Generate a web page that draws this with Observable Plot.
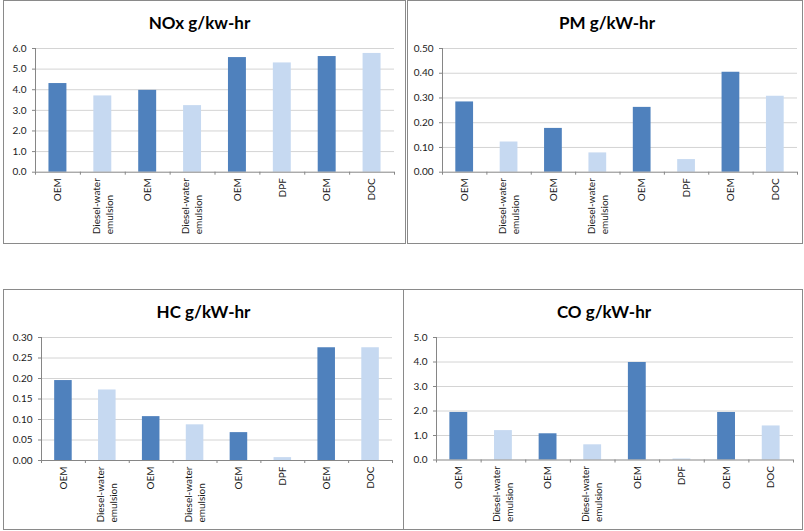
<!DOCTYPE html>
<html>
<head>
<meta charset="utf-8">
<script src="https://cdn.jsdelivr.net/npm/d3@7"></script>
<script src="https://cdn.jsdelivr.net/npm/@observablehq/plot@0.6"></script>
<style>
  body { margin: 0; background: #fff; }
  #root { position: relative; width: 804px; height: 531px; overflow: hidden; font-family: Lato, "Open Sans", sans-serif; }
  .panel { position: absolute; }
  .panel svg { position: absolute; left: 0; }
  .frame { position: absolute; left: 0; top: 0; right: 0; bottom: 0; border: 1px solid #8a8a8a; box-sizing: border-box; pointer-events: none; }
  .title { position: absolute; left: 0; right: 0; top: 0; height: 36px; text-align: center; font-weight: bold; font-size: 17px; line-height: 17px; padding-top: 14px; box-sizing: border-box; color: #000; white-space: nowrap; }
</style>
</head>
<body>
<div id="root"></div>
<script>
// ---- data ----
const categories = ["OEM", "Diesel-water\nemulsion", "OEM", "Diesel-water\nemulsion", "OEM", "DPF", "OEM", "DOC"];
const seriesKind = ["OEM", "Retrofit", "OEM", "Retrofit", "OEM", "Retrofit", "OEM", "Retrofit"];

const noxTitle = "NOx g/kw-hr";
const noxValues = [4.30, 3.70, 3.97, 3.23, 5.56, 5.30, 5.61, 5.76];
const noxTicks = [0, 1, 2, 3, 4, 5, 6];

const pmTitle = "PM g/kW-hr";
const pmValues = [0.284, 0.122, 0.177, 0.078, 0.262, 0.051, 0.404, 0.307];
const pmTicks = [0, 0.1, 0.2, 0.3, 0.4, 0.5];

const hcTitle = "HC g/kW-hr";
const hcValues = [0.195, 0.172, 0.107, 0.087, 0.068, 0.007, 0.275, 0.275];
const hcTicks = [0, 0.05, 0.10, 0.15, 0.20, 0.25, 0.30];

const coTitle = "CO g/kW-hr";
const coValues = [1.94, 1.20, 1.07, 0.62, 3.98, 0.04, 1.94, 1.39];
const coTicks = [0, 1, 2, 3, 4, 5];

// ---- layout / style (not data) ----
const colors = {OEM: "#4f81bd", Retrofit: "#c6d9f1"};
const axisColor = "#868686";
const gridColor = "#d4d4d4";
const TITLE_H = 36;
const LINE_H = 1.3;

const panels = [
  {title: noxTitle, values: noxValues, ticks: noxTicks, fmt: ".1f", left: 3, top: 0, w: 403, h: 244, ml: 32, mr: 12, mt: 12, plotBottom: 171.7, titleDx: -5},
  {title: pmTitle, values: pmValues, ticks: pmTicks, fmt: ".2f", left: 407, top: 0, w: 396, h: 244, ml: 35, mr: 6, mt: 12, plotBottom: 171.7, titleDx: 2},
  {title: hcTitle, values: hcValues, ticks: hcTicks, fmt: ".2f", left: 3, top: 289, w: 401, h: 241, ml: 38, mr: 12, mt: 12, plotBottom: 171, titleDx: 0},
  {title: coTitle, values: coValues, ticks: coTicks, fmt: ".1f", left: 403, top: 289, w: 400, h: 241, ml: 33, mr: 10, mt: 12, plotBottom: 170.5, titleDx: 1}
];

const root = document.getElementById("root");
const idx = d3.range(categories.length);
const centers = idx.map(i => i + 0.5);
const bounds = d3.range(categories.length + 1);

for (const p of panels) {
  const div = document.createElement("div");
  div.className = "panel";
  Object.assign(div.style, {left: p.left + "px", top: p.top + "px", width: p.w + "px", height: p.h + "px"});

  const title = document.createElement("div");
  title.className = "title";
  title.textContent = p.title;
  title.style.transform = `translateX(${p.titleDx}px)`;
  div.appendChild(title);

  const svgH = p.h - TITLE_H;
  const mb = svgH - (p.plotBottom - TITLE_H);
  const fmt = d3.format(p.fmt);
  const ymax = d3.max(p.ticks);

  const chart = Plot.plot({
    width: p.w,
    height: svgH,
    marginLeft: p.ml,
    marginRight: p.mr,
    marginTop: p.mt,
    marginBottom: mb,
    style: {fontFamily: "Lato, 'Open Sans', sans-serif", fontSize: "10px", color: "#1a1a1a", background: "transparent"},
    x: {type: "linear", domain: [0, categories.length], axis: null},
    y: {domain: [0, ymax], axis: null},
    marks: [
      Plot.ruleY(p.ticks.filter(t => t > 0), {stroke: gridColor, strokeWidth: 1}),
      Plot.rectY(idx, {
        x1: i => i + 0.3,
        x2: i => i + 0.7,
        y1: 0,
        y2: i => p.values[i],
        fill: i => colors[seriesKind[i]]
      }),
      Plot.ruleY([0], {stroke: axisColor}),
      Plot.ruleX([0], {stroke: axisColor}),
      Plot.axisY({ticks: p.ticks, tickFormat: fmt, tickSize: 3, tickPadding: 6, stroke: axisColor}),
      Plot.axisX({ticks: bounds, tickFormat: () => "", tickSize: 3, stroke: axisColor}),
      Plot.axisX({ticks: centers, tickFormat: d => categories[Math.floor(d)], tickSize: 0, tickPadding: 6, tickRotate: -90})
    ]
  });
  chart.style.top = TITLE_H + "px";
  div.appendChild(chart);

  const frame = document.createElement("div");
  frame.className = "frame";
  div.appendChild(frame);
  root.appendChild(div);

  // multi-line rotated labels: wider line spacing, lines share their start, block top at axis
  chart.querySelectorAll("text").forEach(t => {
    const spans = Array.from(t.querySelectorAll("tspan"));
    const n = spans.length;
    if (n > 1) {
      let maxW = 0;
      spans.forEach(s => { maxW = Math.max(maxW, s.getComputedTextLength()); });
      t.setAttribute("text-anchor", "start");
      spans.forEach((s, i) => {
        s.setAttribute("x", -maxW);
        if (i === 0) {
          s.setAttribute("y", (0.32 - (n - 1) / 2 * LINE_H) + "em");
          s.removeAttribute("dy");
        } else {
          s.removeAttribute("y");
          s.setAttribute("dy", LINE_H + "em");
        }
      });
    }
  });
}
</script>
</body>
</html>
